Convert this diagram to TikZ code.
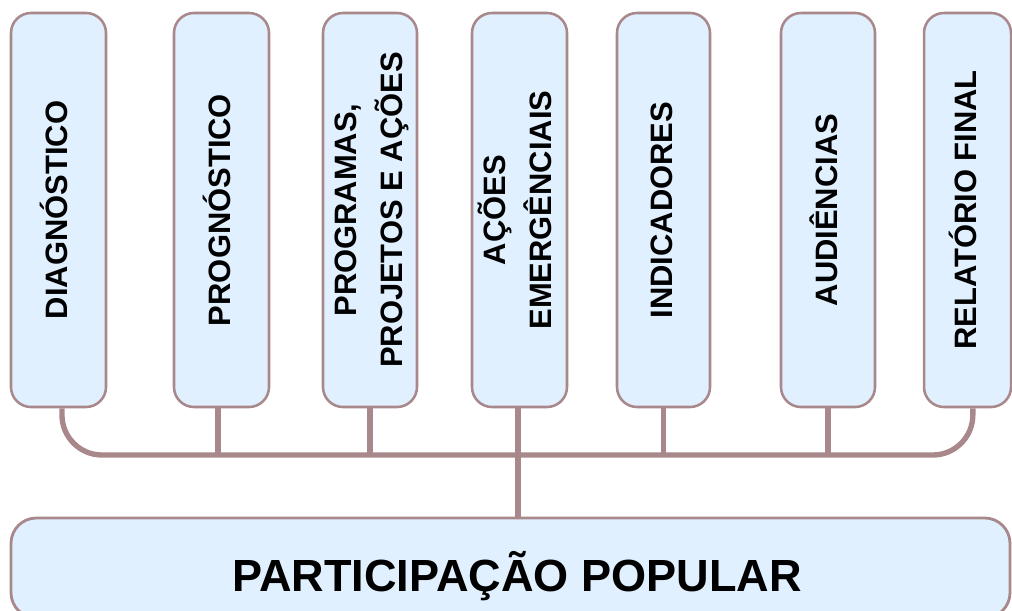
\documentclass[tikz,border=0pt]{standalone}
\usepackage{fontspec}
\setmainfont{Liberation Sans}
\definecolor{edge}{RGB}{168,136,139}
\definecolor{boxfill}{RGB}{224,240,255}
\newcommand{\vlabel}[1]{\rotatebox{90}{\begin{tabular}{@{}c@{}}#1\end{tabular}}}
\tikzset{
  stage/.style={draw=edge, line width=1.9pt, fill=boxfill, rounded corners=15pt,
    inner sep=0pt, minimum height=295.5pt, minimum width=71.25pt,
    font=\bfseries\fontsize{23.2}{34.5}\selectfont},
  basebox/.style={draw=edge, line width=2.1pt, fill=boxfill, rounded corners=19pt,
    inner sep=0pt, minimum width=749.25pt, minimum height=75pt},
  basetext/.style={font=\bfseries\fontsize{33.8}{40}\selectfont, inner sep=0pt},
  conn/.style={draw=edge, line width=4pt},
}
\begin{document}
\begin{tikzpicture}[x=0.75pt, y=-0.75pt]
\useasboundingbox (0,0) rectangle (1012,610);
% stage boxes
\node[stage] (b1) at (58.5,210) {\vlabel{DIAGNÓSTICO}};
\node[stage] (b2) at (221.5,210) {\vlabel{PROGNÓSTICO}};
\node[stage, minimum width=70.5pt] (b3) at (370,210) {\vlabel{PROGRAMAS,\\PROJETOS E AÇÕES}};
\node[stage] (b4) at (519.5,210) {\vlabel{AÇÕES\\EMERGÊNCIAIS}};
\node[stage, minimum width=69.75pt] (b5) at (663.5,210) {\vlabel{INDICADORES}};
\node[stage, minimum width=70.5pt] (b6) at (828,210) {\vlabel{AUDIÊNCIAS}};
\node[stage, minimum width=65.25pt] (b7) at (967.5,210) {\vlabel{RELATÓRIO FINAL}};
% base box
\node[basebox] (pp) at (510.5,568) {};
\node[basetext] (ppt) at ([xshift=5pt,yshift=-6pt]pp.center) {PARTICIPAÇÃO POPULAR};
% connectors
\coordinate (hub) at (518,455);
\draw[conn, rounded corners=30pt] ([xshift=2.6pt]b1.south) |- (hub) -| ([xshift=4pt]b7.south);
\draw[conn] ([xshift=-2.6pt]b2.south) -- ([xshift=-2.6pt]b2.south |- hub);
\draw[conn] (b3.south) -- (b3.south |- hub);
\draw[conn] ([xshift=-1.1pt]b4.south) -- ([xshift=-1.1pt]b4.south |- pp.north);
\draw[conn] (b5.south) -- (b5.south |- hub);
\draw[conn] (b6.south) -- (b6.south |- hub);
\end{tikzpicture}
\end{document}
